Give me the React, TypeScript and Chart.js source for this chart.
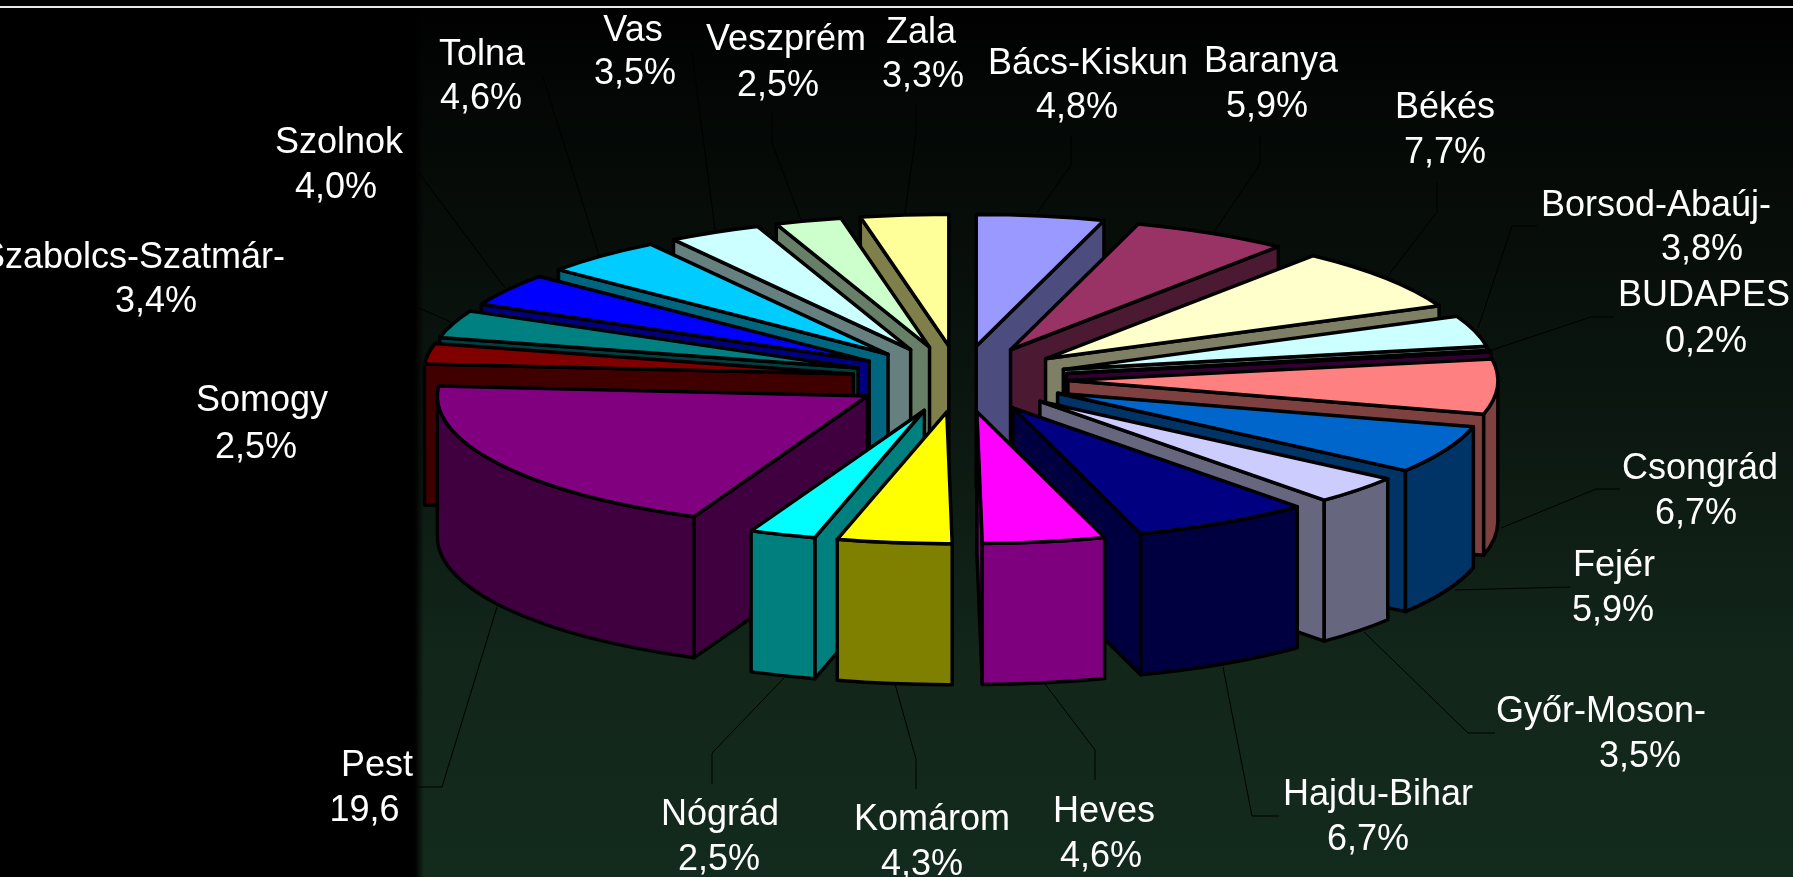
import React, { useEffect, useRef } from "react";
import { Chart, registerables } from "chart.js";

Chart.register(...registerables);

const categories = ["Bács-Kiskun","Baranya","Békés","Borsod-Abaúj-","BUDAPES","Csongrád","Fejér","Győr-Moson-","Hajdu-Bihar","Heves","Komárom","Nógrád","Pest","Somogy","Szabolcs-Szatmár-","Szolnok","Tolna","Vas","Veszprém","Zala"];
const values = [4.8,5.9,7.7,3.8,0.2,6.7,5.9,3.5,6.7,4.6,4.3,2.5,19.6,2.5,3.4,4.0,4.6,3.5,2.5,3.3];
const valueLabels = ["4,8%","5,9%","7,7%","3,8%","0,2%","6,7%","5,9%","3,5%","6,7%","4,6%","4,3%","2,5%","19,6","2,5%","3,4%","4,0%","4,6%","3,5%","2,5%","3,3%"];
const topColors = ["#9999FF","#993366","#FFFFCC","#CCFFFF","#660066","#FF8080","#0066CC","#CCCCFF","#000080","#FF00FF","#FFFF00","#00FFFF","#800080","#800000","#008080","#0000FF","#00CCFF","#CCFFFF","#CCFFCC","#FFFF99"];
const wallColors = ["#4C4C7F","#4C1933","#7F7F66","#667F7F","#330033","#7F4040","#003366","#66667F","#000040","#7F007F","#7F7F00","#007F7F","#400040","#400000","#004040","#00007F","#00667F","#667F7F","#667F66","#7F7F4C"];

// Label text placement: [x line 1, baseline 1, x line 2, baseline 2]
const labelPlaces = [
  [1088,74,1077,118],[1271,72,1267,117],[1445,118,1445,163],[1656,216,1702,260],[1704,306,1706,352],
  [1700,479,1696,524],[1614,576,1613,621],[1601,722,1640,767],[1378,805,1368,850],[1104,822,1101,867],
  [932,830,922,875],[720,825,719,870],[377,776,364.5,821],[262,411,256,458],[133,268,156,312],
  [339,153,336,198],[482,65,481,109],[633,41,635,84],[786,50,778,96],[921,43,923,87],
];
// Leader lines joining labels to slices
const leaderPaths = [
  [[1071,136],[1071,165],[1037,213]],[[1260,135],[1260,164],[1214,232]],[[1437,182],[1437,212],[1387,277]],
  [[1537,226],[1512,226],[1478,328]],[[1614,317],[1591,317],[1492,350]],[[1620,489],[1596,489],[1501,528]],
  [[1570,587],[1455,590]],[[1364,632],[1468,733],[1495,733]],[[1223,667],[1252,816],[1279,816]],
  [[1045,684],[1095,750],[1095,780]],[[895,684],[916,759],[916,789]],[[784,678],[712,753],[712,784]],
  [[497,607],[442,787],[416,787]],[[419,308],[451,322]],[[419,173],[505,288]],
  [[542,74],[599,255]],[[692,52],[715,230]],[[772,113],[772,143],[801,220]],[[916,104],[916,133],[905,213]],
];

const W = 1793, H = 877;
const TILT = 0.3065, DEPTH = 141, EXPLODE = 108, RADIUS = 430;

const pie3d = {
  id: "pie3d",
  beforeDraw(chart: any) {
    const c = chart.ctx;
    c.save();
    const g = c.createLinearGradient(0, 0, 0, H);
    g.addColorStop(0, "#000000");
    g.addColorStop(0.12, "#040705");
    g.addColorStop(0.5, "#0c1811");
    g.addColorStop(0.75, "#12261a");
    g.addColorStop(1, "#122b1c");
    c.fillStyle = g;
    c.fillRect(0, 0, W, H);
    const l = c.createLinearGradient(415, 0, 424, 0);
    l.addColorStop(0, "rgba(0,0,0,1)");
    l.addColorStop(1, "rgba(0,0,0,0)");
    c.fillStyle = l;
    c.fillRect(0, 0, 424, H);
    c.fillStyle = "#000";
    c.fillRect(0, 0, W, 6);
    c.fillStyle = "#e8e8e8";
    c.fillRect(0, 6, W, 2);
    c.restore();
  },
  beforeDatasetsDraw(chart: any) {
    const c = chart.ctx;
    const arcs = chart.getDatasetMeta(0).data;
    c.save();
    c.strokeStyle = "#000";
    c.lineWidth = 1;
    leaderPaths.forEach((p) => {
      c.beginPath();
      p.forEach(([x, y], i) => (i ? c.lineTo(x, y) : c.moveTo(x, y)));
      c.stroke();
    });
    c.restore();

    const order = arcs.map((_: any, i: number) => i).sort((a: number, b: number) => {
      const ma = (arcs[a].startAngle + arcs[a].endAngle) / 2;
      const mb = (arcs[b].startAngle + arcs[b].endAngle) / 2;
      return Math.sin(ma) - Math.sin(mb);
    });

    order.forEach((i: number) => {
      const arc = arcs[i];
      const s = arc.startAngle, e = arc.endAngle, r = arc.outerRadius;
      const mid = (s + e) / 2;
      const dx = Math.cos(mid) * EXPLODE, dy = Math.sin(mid) * EXPLODE;
      const ax = arc.x + dx, ay = arc.y + dy * TILT;
      const rim = (t: number) => [ax + r * Math.cos(t), ay + r * TILT * Math.sin(t)];

      c.save();
      c.lineJoin = "round";
      c.lineWidth = 3.5;
      c.strokeStyle = "#000";
      c.fillStyle = wallColors[i];

      const cut = (t: number) => {
        const [x, y] = rim(t);
        c.beginPath();
        c.moveTo(ax, ay);
        c.lineTo(x, y);
        c.lineTo(x, y + DEPTH);
        c.lineTo(ax, ay + DEPTH);
        c.closePath();
        c.fill();
        c.stroke();
      };
      if (Math.cos(s) < 0) cut(s);
      if (Math.cos(e) > 0) cut(e);

      const a0 = Math.max(s, 0), a1 = Math.min(e, Math.PI);
      if (a1 > a0) {
        c.beginPath();
        c.ellipse(ax, ay, r, r * TILT, 0, a0, a1);
        c.ellipse(ax, ay + DEPTH, r, r * TILT, 0, a1, a0, true);
        c.closePath();
        c.fill();
        c.stroke();
      }

      // Top face: the library's arc, squashed into the tilted plane
      c.save();
      c.translate(arc.x, arc.y);
      c.scale(1, TILT);
      c.translate(-arc.x + dx, -arc.y + dy);
      arc.draw(c);
      c.restore();

      c.beginPath();
      c.moveTo(ax, ay);
      c.ellipse(ax, ay, r, r * TILT, 0, s, e);
      c.closePath();
      c.stroke();
      c.restore();
    });
    return false;
  },
  afterDraw(chart: any) {
    const c = chart.ctx;
    c.save();
    c.fillStyle = "#fff";
    c.font = '36px "Liberation Sans"';
    c.textAlign = "center";
    c.textBaseline = "alphabetic";
    categories.forEach((name, i) => {
      const [x1, y1, x2, y2] = labelPlaces[i];
      c.fillText(name, x1, y1);
      c.fillText(valueLabels[i], x2, y2);
    });
    c.restore();
  },
};

export default function App() {
  const ref = useRef<HTMLCanvasElement>(null);
  useEffect(() => {
    const chart = new Chart(ref.current as HTMLCanvasElement, {
      type: "pie",
      data: {
        labels: categories,
        datasets: [{ data: values, backgroundColor: topColors, borderWidth: 0, clip: false } as any],
      },
      options: {
        animation: false,
        responsive: false,
        radius: RADIUS,
        layout: { padding: { left: 127, bottom: 119 } },
        plugins: { legend: { display: false }, tooltip: { enabled: false } },
      } as any,
      plugins: [pie3d as any],
    });
    return () => chart.destroy();
  }, []);
  return (
    <div style={{ position: "fixed", left: 0, top: 0, width: W, height: H, overflow: "hidden", background: "#000" }}>
      <canvas ref={ref} width={W} height={H} style={{ display: "block" }} />
    </div>
  );
}
